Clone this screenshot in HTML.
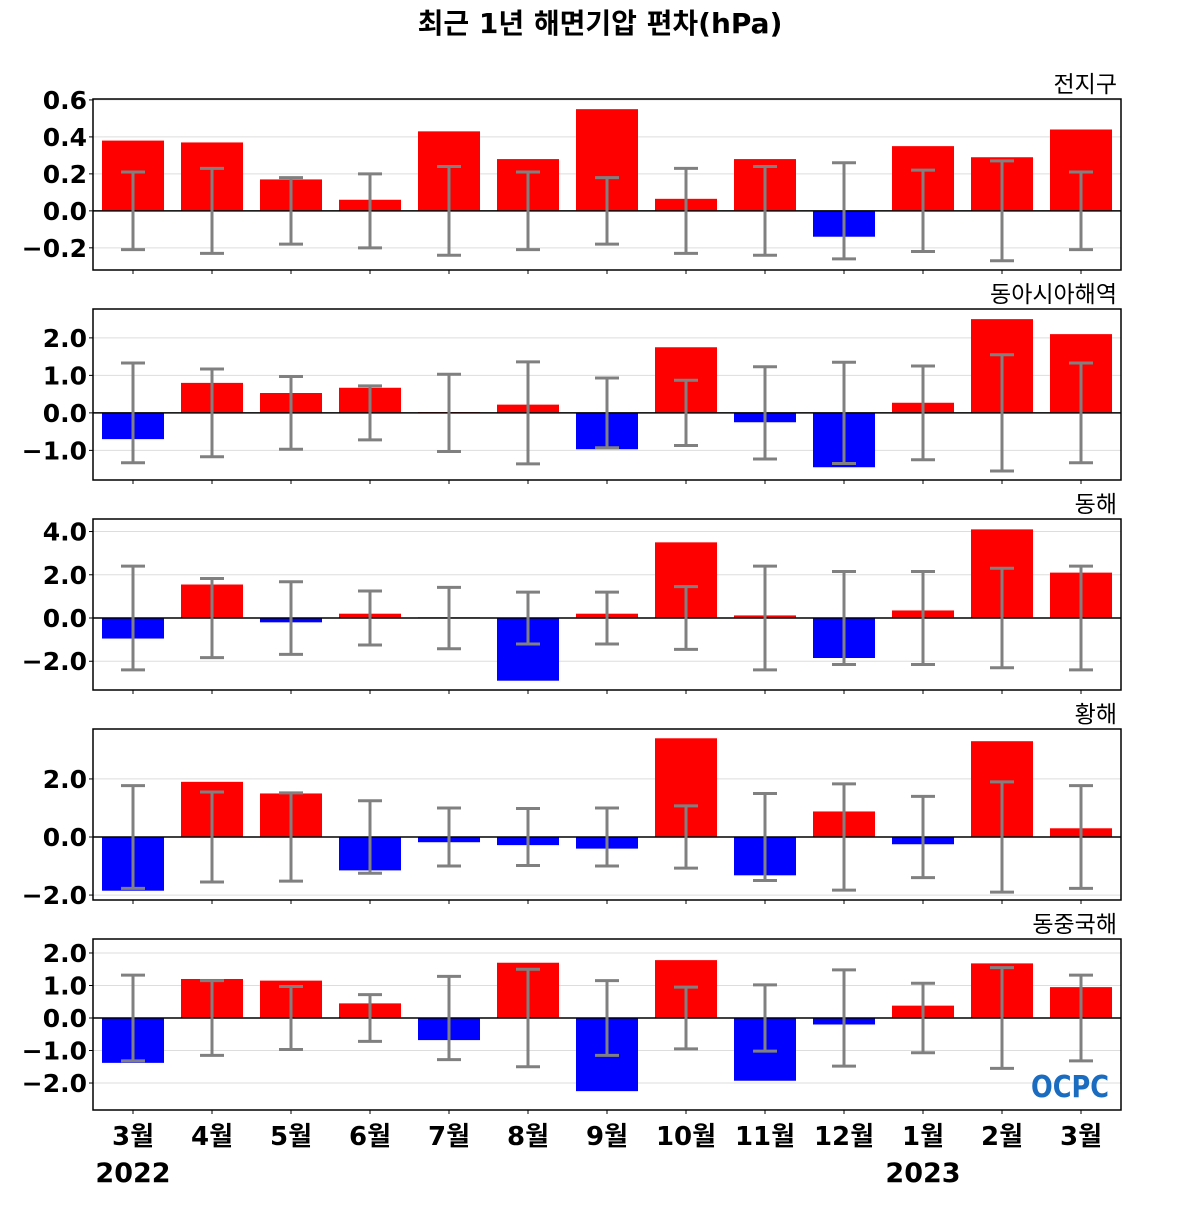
<!DOCTYPE html>
<html><head><meta charset="utf-8"><style>
body{margin:0;background:#fff;}
svg text{font-family:"DejaVu Sans","Liberation Sans","Noto Sans CJK KR",sans-serif;}
</style></head><body>
<svg id="chart" width="1200" height="1200" xmlns="http://www.w3.org/2000/svg">
<text x="600" y="33" text-anchor="middle" font-size="28" font-weight="bold">최근 1년 해면기압 편차(hPa)</text>
<g id="panels"></g>
<text x="1070" y="1097" text-anchor="middle" font-size="30" font-weight="bold" fill="#1a6cc0" textLength="78" lengthAdjust="spacingAndGlyphs">OCPC</text>
</svg>
<script>
const months = ["3월","4월","5월","6월","7월","8월","9월","10월","11월","12월","1월","2월","3월"];
const regions = ["전지구","동아시아해역","동해","황해","동중국해"];
const globalVals = [0.38,0.37,0.17,0.06,0.43,0.28,0.55,0.065,0.28,-0.14,0.35,0.29,0.44];
const globalErr = [0.21,0.23,0.18,0.2,0.24,0.21,0.18,0.23,0.24,0.26,0.22,0.27,0.21];
const eastAsiaVals = [-0.7,0.8,0.53,0.67,0.02,0.22,-0.97,1.75,-0.25,-1.45,0.27,2.5,2.1];
const eastAsiaErr = [1.33,1.17,0.97,0.72,1.03,1.36,0.93,0.87,1.23,1.35,1.25,1.55,1.33];
const eastSeaVals = [-0.95,1.55,-0.2,0.2,0.03,-2.9,0.2,3.5,0.12,-1.85,0.35,4.1,2.1];
const eastSeaErr = [2.4,1.83,1.68,1.25,1.42,1.2,1.2,1.45,2.4,2.15,2.15,2.3,2.4];
const yellowSeaVals = [-1.85,1.9,1.5,-1.15,-0.18,-0.28,-0.4,3.4,-1.32,0.88,-0.25,3.3,0.3];
const yellowSeaErr = [1.77,1.55,1.52,1.25,1.0,0.98,1.0,1.07,1.5,1.83,1.4,1.9,1.77];
const ecsVals = [-1.38,1.2,1.15,0.45,-0.68,1.7,-2.25,1.78,-1.93,-0.2,0.38,1.68,0.95];
const ecsErr = [1.32,1.15,0.97,0.72,1.28,1.5,1.15,0.95,1.02,1.48,1.07,1.55,1.32];
const yDomains = [[-0.32,0.605],[-1.79,2.77],[-3.33,4.58],[-2.17,3.72],[-2.83,2.43]];
const yTicks = [[-0.2,0,0.2,0.4,0.6],[-1,0,1,2],[-2,0,2,4],[-2,0,2],[-2,-1,0,1,2]];
const allVals=[globalVals,eastAsiaVals,eastSeaVals,yellowSeaVals,ecsVals];
const allErr=[globalErr,eastAsiaErr,eastSeaErr,yellowSeaErr,ecsErr];
const NS="http://www.w3.org/2000/svg";
const g=document.getElementById("panels");
const L=93,R=1121,H=171;
const xC=i=>L+40+i*79;
function mk(tag,attrs,parent){const e=document.createElementNS(NS,tag);for(const k in attrs)e.setAttribute(k,attrs[k]);(parent||g).appendChild(e);return e;}
regions.forEach((name,p)=>{
  const top=99+p*210, bot=top+H;
  const [d0,d1]=yDomains[p];
  const y=v=>bot-(v-d0)/(d1-d0)*H;
  const pg=mk("g",{});
  
  
  const t=mk("text",{x:R-4,y:top-7,"text-anchor":"end","font-size":"23"},pg);t.textContent=name;
  
  
  yTicks[p].forEach(v=>{
    const gl=mk("line",{x1:L,x2:R,y1:y(v),y2:y(v),stroke:"#ddd","stroke-width":1},pg);
    
    
    const tl=mk("text",{x:L-6,y:y(v)+9,"text-anchor":"end","font-size":"25","font-weight":"bold"},pg);
    tl.textContent=(v<0?"\u2212":"")+Math.abs(v).toFixed(1);
    
    
    mk("line",{x1:L-4,x2:L,y1:y(v),y2:y(v),stroke:"#000"},pg);
  });
  allVals[p].forEach((v,i)=>{
    const b=mk("rect",{x:xC(i)-31,width:62,y:Math.min(y(v),y(0)),height:Math.abs(y(v)-y(0)),fill:v>=0?"#ff0000":"#0000ff"},pg);
    
    
  });
  mk("line",{x1:L,x2:R,y1:y(0),y2:y(0),stroke:"#000","stroke-width":1.5},pg);
  allErr[p].forEach((e,i)=>{
    const eg=mk("g",{stroke:"#808080","stroke-width":3},pg);
    
    
    mk("line",{x1:xC(i),x2:xC(i),y1:y(e),y2:y(-e)},eg);
    mk("line",{x1:xC(i)-12,x2:xC(i)+12,y1:y(e),y2:y(e)},eg);
    mk("line",{x1:xC(i)-12,x2:xC(i)+12,y1:y(-e),y2:y(-e)},eg);
    mk("line",{x1:xC(i),x2:xC(i),y1:bot,y2:bot+4,stroke:"#000","stroke-width":1},pg);
  });
  const fr=mk("rect",{x:L,y:top,width:R-L,height:H,fill:"none",stroke:"#000","stroke-width":1.5},pg);
  
  
});
months.forEach((m,i)=>{
  const t=mk("text",{x:xC(i),y:1145,"text-anchor":"middle","font-size":"26","font-weight":"bold"});
  t.textContent=m;
  
  
});
[["2022",0],["2023",10]].forEach(([yr,i])=>{
  const t=mk("text",{x:xC(i),y:1182,"text-anchor":"middle","font-size":"27","font-weight":"bold"});
  t.textContent=yr;
  
  
});
</script>
</body></html>
